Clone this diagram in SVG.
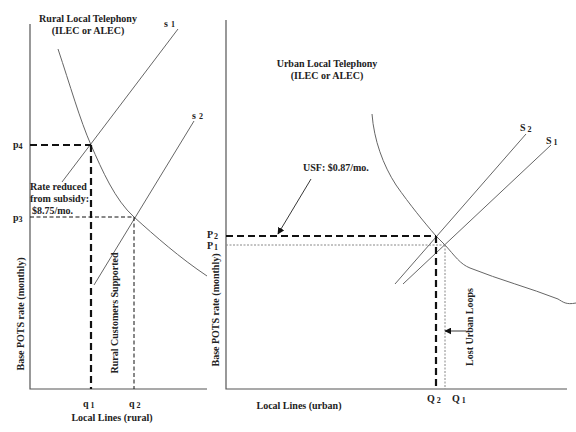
<svg xmlns="http://www.w3.org/2000/svg" width="576" height="432" viewBox="0 0 576 432">
<style>
text{font-family:"Liberation Serif","Times New Roman",serif;font-weight:bold;font-size:10px;fill:#222}
.sub{font-size:8px}
.axis{stroke:#555;stroke-width:1.2;fill:none}
.curve{stroke:#666;stroke-width:1;fill:none}
.thick{stroke:#111;stroke-width:2.2;stroke-dasharray:7,4;fill:none}
.thin{stroke:#111;stroke-width:1;stroke-dasharray:4,2.5;fill:none}
.dot{stroke:#888;stroke-width:1;stroke-dasharray:2,1.5;fill:none}
.arr{stroke:#222;stroke-width:0.9;fill:none;marker-end:url(#ah)}
</style>
<defs>
<marker id="ah" viewBox="0 0 10 10" refX="9" refY="5" markerWidth="7" markerHeight="7" orient="auto" markerUnits="userSpaceOnUse">
<path d="M0,0 L10,5 L0,10 z" fill="#111"/>
</marker>
</defs>
<rect width="576" height="432" fill="#fff"/>

<g id="rural-panel">
<path class="axis" d="M30,24 V389 H207"/>
<text x="88" y="22" text-anchor="middle">Rural Local  Telephony</text>
<text x="88" y="34" text-anchor="middle">(ILEC or ALEC)</text>
<path class="curve" d="M58,49 C70,85 80,120 91,145 C102,170 115,200 134,217 C155,236 180,258 207,276"/>
<path class="curve" d="M62,182 L178,29"/>
<path class="curve" d="M94,285 L194,121"/>
<text x="164" y="27">s<tspan class="sub" dx="3">1</tspan></text>
<text x="192" y="119">s<tspan class="sub" dx="3">2</tspan></text>
<path class="thick" d="M30,145 H91 M91,145 V389"/>
<path class="thin" d="M30,217 H134 M134,217 V389"/>
<text x="13" y="148">p<tspan class="sub" dy="1">4</tspan></text>
<text x="13" y="221">p<tspan class="sub" dy="1">3</tspan></text>
<text x="30" y="190">Rate reduced</text>
<text x="30" y="202">from subsidy:</text>
<text x="32" y="214">$8.75/mo.</text>
<text transform="translate(118,313) rotate(-90)" text-anchor="middle">Rural Customers Supported</text>
<text transform="translate(24,314) rotate(-90)" text-anchor="middle">Base POTS rate (monthly)</text>
<text x="83" y="407">q<tspan class="sub" dx="2" dy="1">1</tspan></text>
<text x="129" y="407">q<tspan class="sub" dx="2" dy="1">2</tspan></text>
<text x="112" y="421" text-anchor="middle">Local Lines (rural)</text>
</g>

<g id="urban-panel">
<path class="axis" d="M226,20 V389 H567"/>
<text x="327" y="67" text-anchor="middle">Urban Local Telephony</text>
<text x="327" y="79" text-anchor="middle">(ILEC or ALEC)</text>
<path class="curve" d="M372,114 C374,140 383,165 396,185 C410,205 424,222 436,236 L445,245 C455,256 460,264 470,268 C500,280 530,288 558,299 C563,302 566,305 576,303"/>
<path class="curve" d="M526,134 L395,284"/>
<path class="curve" d="M551,145 L403,284"/>
<text x="520" y="131">S<tspan class="sub" dx="2" dy="1">2</tspan></text>
<text x="546" y="144">S<tspan class="sub" dx="2" dy="1">1</tspan></text>
<path class="thick" d="M226,236 H436 M436,236 V389"/>
<path class="dot" d="M226,245 H445 M445,245 V389"/>
<text x="207" y="238">P<tspan class="sub" dx="1" dy="1">2</tspan></text>
<text x="207" y="249">P<tspan class="sub" dx="1" dy="1">1</tspan></text>
<text x="303" y="171">USF: $0.87/mo.</text>
<text transform="translate(219,310) rotate(-90)" text-anchor="middle">Base POTS rate (monthly)</text>
<text transform="translate(473,327) rotate(-90)" text-anchor="middle">Lost Urban Loops</text>
<text x="427" y="402">Q<tspan class="sub" dx="2" dy="1">2</tspan></text>
<text x="452" y="402">Q<tspan class="sub" dx="2" dy="1">1</tspan></text>
<text x="299" y="409" text-anchor="middle">Local Lines (urban)</text>
</g>

<g id="connectors">
<path class="arr" d="M311,179 L278,234"/>
<path class="arr" d="M466,331 L445,331"/>
</g>
</svg>
